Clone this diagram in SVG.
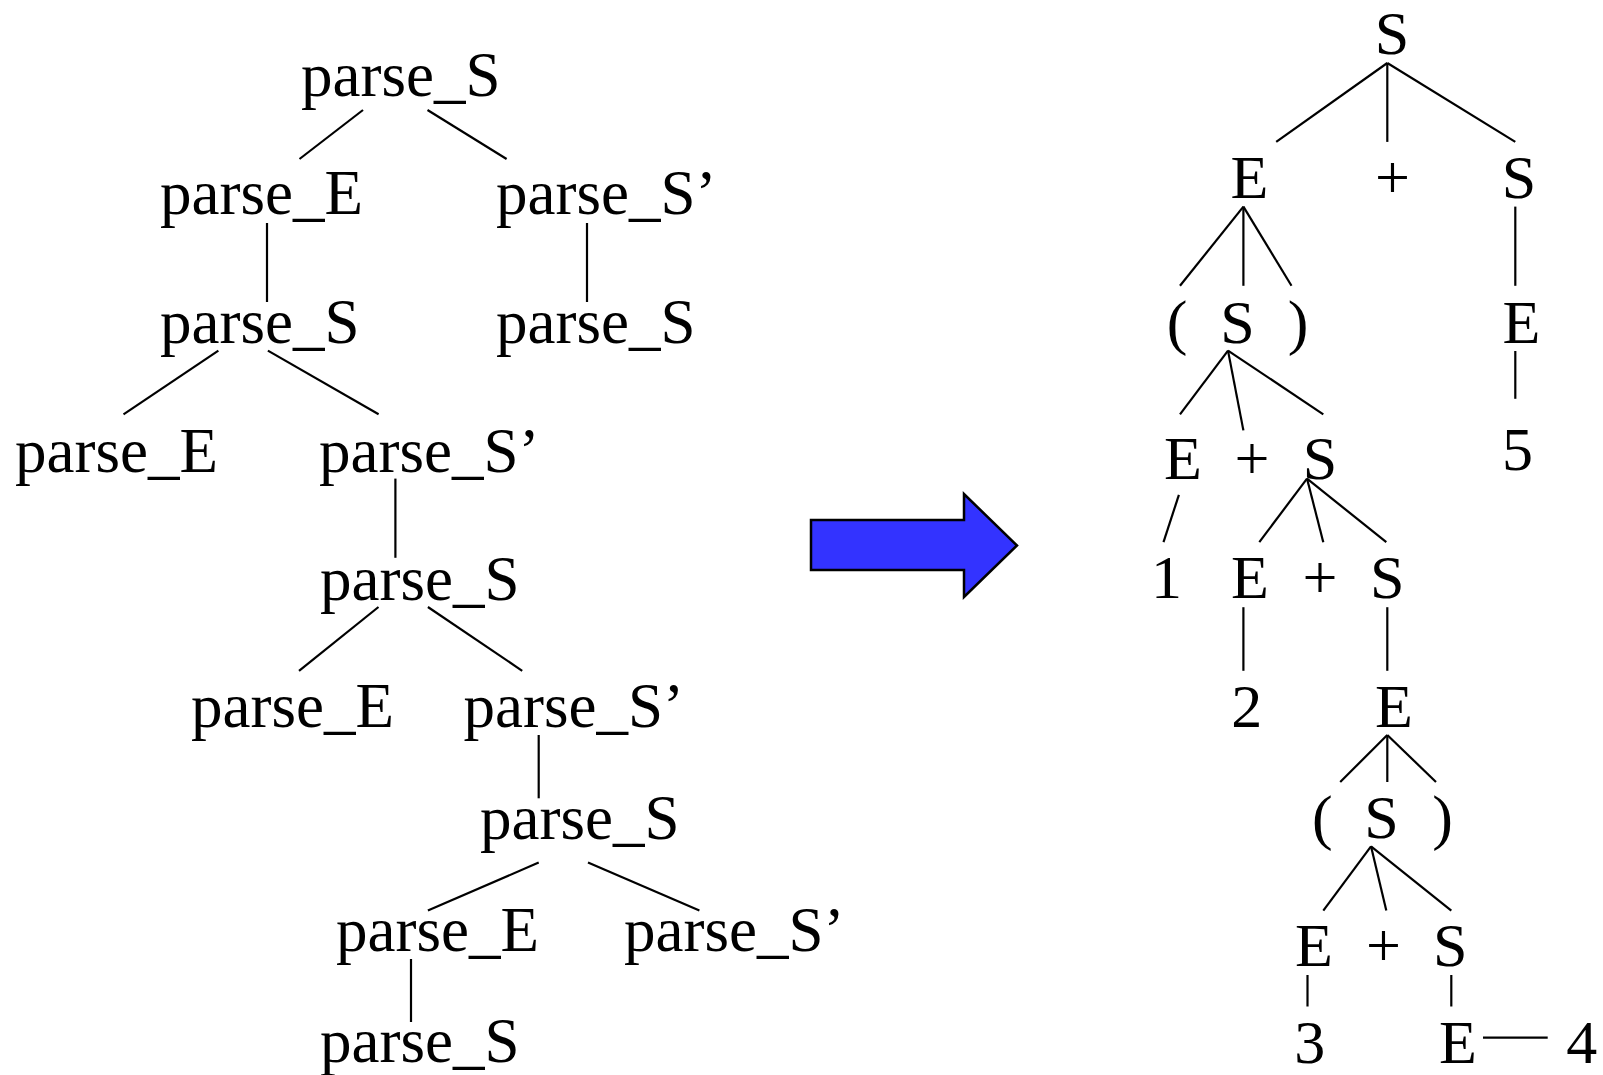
<svg xmlns="http://www.w3.org/2000/svg" width="1603" height="1075" viewBox="0 0 1603 1075">
<style>
text{font-family:"Liberation Serif","Times New Roman",serif;font-size:62px;fill:#000}
#left-tree text{font-size:63px}
.m{text-anchor:middle}
.c line{stroke:#000;stroke-width:2.2;stroke-linecap:butt}
</style>
<rect width="1603" height="1075" fill="#fff"/>
<g id="left-tree">
<g id="l1"><text x="301" y="96">parse_S</text></g>
<g id="l2"><text x="160" y="214">parse_E</text></g>
<g id="l3"><text x="496" y="214">parse_S’</text></g>
<g id="l4"><text x="160" y="342.5">parse_S</text></g>
<g id="l5"><text x="496" y="342.5">parse_S</text></g>
<g id="l6"><text x="15" y="471.5">parse_E</text></g>
<g id="l7"><text x="319" y="471.5">parse_S’</text></g>
<g id="l8"><text x="320" y="599.5">parse_S</text></g>
<g id="l9"><text x="191" y="726.5">parse_E</text></g>
<g id="l10"><text x="463.5" y="726.5">parse_S’</text></g>
<g id="l11"><text x="480" y="838.5">parse_S</text></g>
<g id="l12"><text x="336" y="950.5">parse_E</text></g>
<g id="l13"><text x="624" y="950.5">parse_S’</text></g>
<g id="l14"><text x="320" y="1062">parse_S</text></g>
</g>
<g id="right-tree">
<g id="r1"><text class="m" x="1392" y="53.5">S</text></g>
<g id="r2"><text class="m" x="1249.5" y="198">E</text></g>
<g id="r3"><text class="m" x="1392.5" y="198">+</text></g>
<g id="r4"><text class="m" x="1519" y="198">S</text></g>
<g id="r5"><text class="m" x="1177" y="342.5">(</text></g>
<g id="r6"><text class="m" x="1237.5" y="342.5">S</text></g>
<g id="r7"><text class="m" x="1298" y="342.5">)</text></g>
<g id="r8"><text class="m" x="1521.5" y="342.5">E</text></g>
<g id="r9"><text class="m" x="1517.6" y="470">5</text></g>
<g id="r10"><text class="m" x="1183" y="478.5">E</text></g>
<g id="r11"><text class="m" x="1252" y="478.5">+</text></g>
<g id="r12"><text class="m" x="1320" y="478.5">S</text></g>
<g id="r13"><text class="m" x="1166.5" y="598">1</text></g>
<g id="r14"><text class="m" x="1250" y="598">E</text></g>
<g id="r15"><text class="m" x="1320" y="598">+</text></g>
<g id="r16"><text class="m" x="1387.3" y="598">S</text></g>
<g id="r17"><text class="m" x="1246.7" y="726.5">2</text></g>
<g id="r18"><text class="m" x="1394" y="726.5">E</text></g>
<g id="r19"><text class="m" x="1322.3" y="837.6">(</text></g>
<g id="r20"><text class="m" x="1381.6" y="837.6">S</text></g>
<g id="r21"><text class="m" x="1442.6" y="837.6">)</text></g>
<g id="r22"><text class="m" x="1314" y="965.7">E</text></g>
<g id="r23"><text class="m" x="1383.4" y="965.7">+</text></g>
<g id="r24"><text class="m" x="1450.3" y="965.7">S</text></g>
<g id="r25"><text class="m" x="1309.7" y="1063">3</text></g>
<g id="r26"><text class="m" x="1458" y="1063">E</text></g>
<g id="r27"><text class="m" x="1581.7" y="1063">4</text></g>
</g>
<g id="arrow">
<polygon points="811,520 964,520 964,494 1017,545.5 964,597 964,570 811,570" fill="#3333ff" stroke="#000" stroke-width="2.5" stroke-linejoin="miter"/>
</g>
<g id="connectors" class="c">
<line x1="363" y1="110" x2="299.5" y2="159"/>
<line x1="427.5" y1="110" x2="506.6" y2="159"/>
<line x1="267" y1="223" x2="267" y2="302"/>
<line x1="587" y1="223" x2="587" y2="302"/>
<line x1="218.4" y1="350.6" x2="123.5" y2="414.3"/>
<line x1="267.9" y1="350.6" x2="378.6" y2="414.3"/>
<line x1="395.4" y1="478.6" x2="395.4" y2="557.8"/>
<line x1="378.5" y1="607" x2="299" y2="670.8"/>
<line x1="427.9" y1="607" x2="522.2" y2="670.8"/>
<line x1="538.7" y1="735" x2="538.7" y2="798.3"/>
<line x1="538.7" y1="862.6" x2="427.9" y2="910.6"/>
<line x1="588" y1="862.6" x2="699.4" y2="910.6"/>
<line x1="411" y1="959" x2="411" y2="1022"/>
<line x1="1387.3" y1="63" x2="1276.2" y2="141.9"/>
<line x1="1387.3" y1="63" x2="1387.3" y2="141.9"/>
<line x1="1387.3" y1="63" x2="1515.3" y2="141.9"/>
<line x1="1243.4" y1="206.6" x2="1180" y2="285.8"/>
<line x1="1243.4" y1="206.6" x2="1243.4" y2="285.8"/>
<line x1="1243.4" y1="206.6" x2="1291.5" y2="285.8"/>
<line x1="1515.3" y1="206.6" x2="1515.3" y2="285.8"/>
<line x1="1228" y1="350.6" x2="1180" y2="414.3"/>
<line x1="1228" y1="350.6" x2="1243.4" y2="430.4"/>
<line x1="1228" y1="350.6" x2="1323.3" y2="414.3"/>
<line x1="1515.3" y1="351" x2="1515.3" y2="398.8"/>
<line x1="1178.9" y1="494.8" x2="1163.5" y2="542.2"/>
<line x1="1307" y1="478.6" x2="1259.3" y2="542.2"/>
<line x1="1307" y1="478.6" x2="1323.3" y2="542.2"/>
<line x1="1307" y1="478.6" x2="1386.3" y2="542.2"/>
<line x1="1243.4" y1="607.2" x2="1243.4" y2="670.8"/>
<line x1="1387.3" y1="607.2" x2="1387.3" y2="670.8"/>
<line x1="1387.3" y1="735" x2="1340.2" y2="782"/>
<line x1="1387.3" y1="735" x2="1387.3" y2="782"/>
<line x1="1387.3" y1="735" x2="1436" y2="782"/>
<line x1="1371" y1="846.3" x2="1323.3" y2="910.6"/>
<line x1="1371" y1="846.3" x2="1386.3" y2="910.6"/>
<line x1="1371" y1="846.3" x2="1451.3" y2="910.6"/>
<line x1="1307.5" y1="975" x2="1307.5" y2="1006.5"/>
<line x1="1451.3" y1="975" x2="1451.3" y2="1006.5"/>
<line x1="1483" y1="1037.7" x2="1547.7" y2="1037.7"/>
</g>
</svg>
